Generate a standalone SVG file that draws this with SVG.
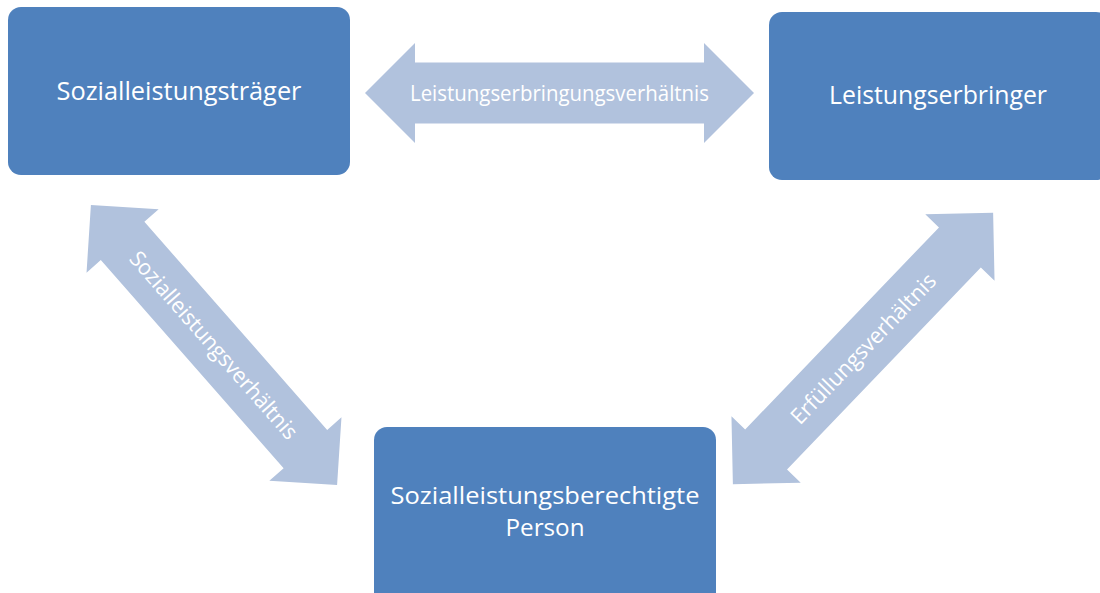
<svg xmlns="http://www.w3.org/2000/svg" width="1100" height="593" viewBox="0 0 1100 593">
  <style>
    .box { fill: #4F81BD; }
    .arr { fill: #B1C2DD; }
    .bt { fill: #FFFFFF; font-family: "Open Sans", "Liberation Sans", sans-serif; font-size: 26px; text-anchor: middle; }
    .bt2 { fill: #FFFFFF; font-family: "Open Sans", "Liberation Sans", sans-serif; font-size: 23.4px; text-anchor: middle; }
    .at { fill: #FFFFFF; font-family: "Open Sans", "Liberation Sans", sans-serif; font-size: 22px; text-anchor: middle; }
  </style>
  <rect width="1100" height="593" fill="#FFFFFF"/>
  <g id="connectors">
    <g id="arrow-top" transform="translate(559.5,93)">
      <path class="arr" d="M -194.5 0 L -144.5 -50 L -144.5 -30.5 L 144.5 -30.5 L 144.5 -50 L 194.5 0 L 144.5 50 L 144.5 30.5 L -144.5 30.5 L -144.5 50 Z"/>
      <text class="at" x="0" y="8" textLength="299" lengthAdjust="spacingAndGlyphs">Leistungserbringungsverhältnis</text>
    </g>
    <g id="arrow-left" transform="translate(214,345) rotate(48.7)">
      <path class="arr" d="M -186.5 0 L -138.5 -48 L -138.5 -29 L 138.5 -29 L 138.5 -48 L 186.5 0 L 138.5 48 L 138.5 29 L -138.5 29 L -138.5 48 Z"/>
      <text class="at" x="0" y="8" textLength="242" lengthAdjust="spacingAndGlyphs">Sozialleistungsverhältnis</text>
    </g>
    <g id="arrow-right" transform="translate(863,348.5) rotate(-46.2)">
      <path class="arr" d="M -188 0 L -140 -48 L -140 -29 L 140 -29 L 140 -48 L 188 0 L 140 48 L 140 29 L -140 29 L -140 48 Z"/>
      <text class="at" x="0" y="8" textLength="199" lengthAdjust="spacingAndGlyphs">Erfüllungsverhältnis</text>
    </g>
  </g>
  <g id="node-traeger">
    <rect class="box" x="8" y="7" width="342" height="168" rx="13" ry="13"/>
    <text class="bt" x="179" y="100" textLength="245" lengthAdjust="spacingAndGlyphs">Sozialleistungsträger</text>
  </g>
  <g id="node-erbringer">
    <rect class="box" x="769" y="12" width="340" height="168" rx="13" ry="13"/>
    <text class="bt" x="938" y="104" textLength="218" lengthAdjust="spacingAndGlyphs">Leistungserbringer</text>
  </g>
  <g id="node-person">
    <rect class="box" x="374" y="427" width="342" height="190" rx="13" ry="13"/>
    <text class="bt2" x="545" y="504" textLength="309" lengthAdjust="spacingAndGlyphs">Sozialleistungsberechtigte</text>
    <text class="bt2" x="545" y="536" textLength="79" lengthAdjust="spacingAndGlyphs">Person</text>
  </g>
</svg>
